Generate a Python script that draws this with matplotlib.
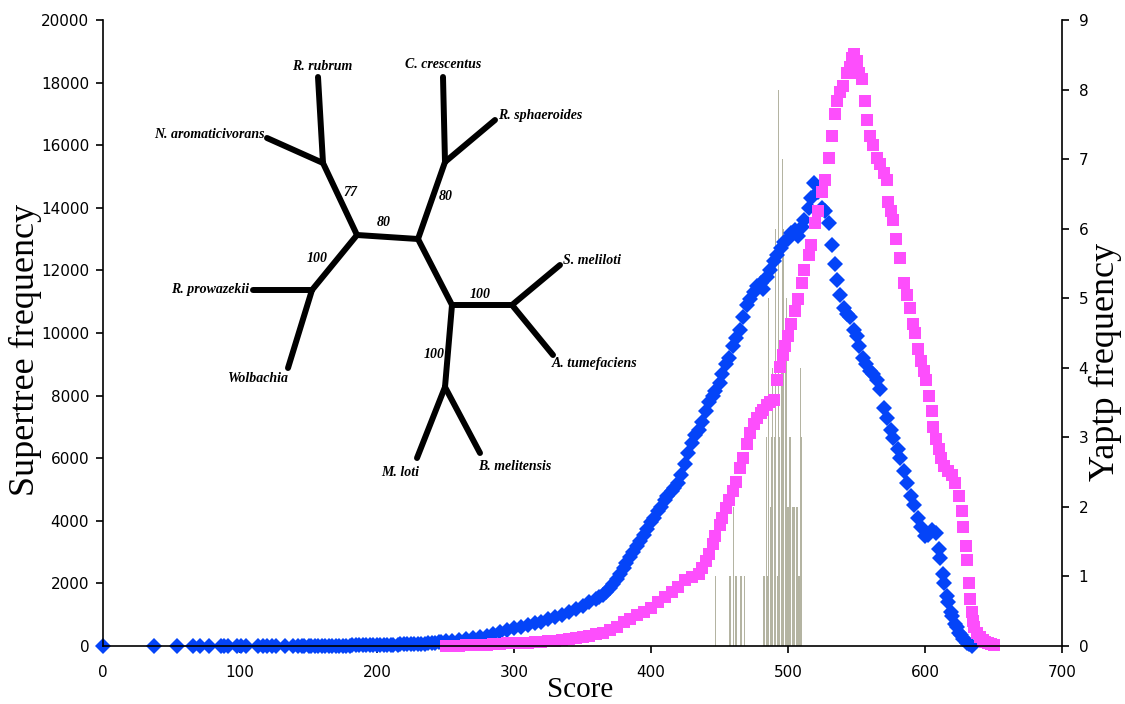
import matplotlib.pyplot as plt
import numpy as np

# Supertree score distribution (blue diamonds, left axis)
super_score = [0, 37, 54, 66, 71, 77, 86, 88, 91, 98, 101, 104, 113, 117, 120, 123, 126, 133,
               139, 142, 145, 147, 150, 152, 155, 157, 160, 162, 165, 167, 170, 172, 175, 177,
               180, 182, 185, 187, 190, 192, 195, 197, 200, 202, 205, 207, 210, 212, 215, 217,
               220, 222, 225, 227, 230, 232, 235, 237, 240, 242, 245, 247, 250, 255, 260, 265,
               270, 275, 280, 285, 290, 295,
               300, 305, 310, 315, 320, 325, 330, 335, 340, 345, 350, 355,
               360, 362, 365, 367, 370, 372, 375, 377, 380, 382, 385, 387, 390, 392, 395, 397,
               400, 402, 405, 407, 410, 412, 415, 417, 420, 422, 425, 427, 430, 432, 435, 437,
               440, 442, 445, 447, 450, 452, 455, 457, 460, 462, 465, 467, 470, 472, 475, 477,
               480, 482, 485, 487, 490, 492, 495, 497, 500, 502, 505, 507, 510, 512, 515, 517,
               519, 522, 525, 527, 530, 532, 534, 536, 538, 541, 543, 545, 548, 550, 552, 555,
               557, 560, 562, 565, 567, 570, 572, 575, 577, 580, 582, 585, 587, 590, 592, 595,
               597, 600, 602, 605, 608, 610, 611, 613, 614, 616, 617, 619, 620, 622, 623, 625,
               626, 628, 629, 631, 632, 634]
super_freq = [0, 0, 0, 0, 0, 0, 0, 0, 0, 0, 0, 0, 0, 0, 0, 0, 0, 0,
              0, 0, 0, 5, 5, 5, 5, 10, 10, 10, 10, 10, 10, 15, 15, 15,
              15, 20, 20, 20, 20, 25, 25, 30, 30, 30, 30, 35, 40, 40, 45, 50,
              50, 55, 55, 60, 60, 65, 70, 80, 90, 100, 120, 130, 150, 170, 200, 230,
              260, 290, 330, 380, 440, 500,
              560, 610, 660, 720, 780, 850, 930, 1000, 1090, 1180, 1280, 1390,
              1500, 1560, 1620, 1720, 1850, 1980, 2150, 2300, 2500, 2650, 2850, 3000, 3200, 3350, 3550, 3750,
              3950, 4100, 4300, 4450, 4650, 4800, 4950, 5050, 5200, 5450, 5800, 6150, 6500, 6750, 6900, 7150,
              7500, 7800, 8000, 8150, 8400, 8700, 9000, 9200, 9600, 9850, 10100, 10500, 10900, 11100, 11300, 11500,
              11600, 11400, 11800, 12000, 12300, 12500, 12700, 12900, 13000, 13200, 13300, 13100, 13400, 13600, 14000, 14300,
              14800, 14500, 14000, 13900, 13500, 12800, 12200, 11700, 11200, 10800, 10600, 10500, 10100, 9900, 9600, 9200,
              9000, 8800, 8700, 8500, 8200, 7600, 7300, 6900, 6650, 6300, 6000, 5600, 5200, 4800, 4500, 4100,
              3800, 3500, 3550, 3700, 3600, 3100, 2800, 2300, 2000, 1600, 1400, 1100, 950, 700, 600, 420,
              350, 230, 180, 90, 50, 0]

# second score distribution (magenta squares, left axis)
other_score = [250, 255, 260, 265, 270, 275, 280, 285, 290, 295, 300, 305, 310, 315, 320, 325,
               330, 335, 340, 345, 350, 355, 360, 365, 370, 375, 380, 385, 390, 395, 400, 405,
               410, 415, 420, 425, 430, 435, 437, 440, 442, 445, 447, 450, 452, 455, 457, 460,
               462, 465, 467, 470, 472, 475, 477, 480, 482, 485, 487, 490, 492, 494, 496, 498,
               500, 502, 505, 507, 510, 512, 515, 517, 520, 522, 525, 527, 530, 532, 534, 536,
               538, 540, 543, 545, 547, 548, 550, 552, 554, 556, 558, 560, 562, 565, 567, 570,
               572, 573, 575, 577, 579, 582, 585, 587, 589, 591, 593, 595, 597, 599, 601, 603,
               605, 606, 608, 610, 612, 614, 617, 620, 622, 625, 627, 628, 630, 631, 632, 633,
               634, 635, 636, 638, 640, 642, 644, 646, 648, 650]
other_freq = [0, 10, 15, 20, 25, 30, 40, 50, 70, 80, 90, 100, 110, 120, 140, 150,
              170, 190, 210, 240, 280, 320, 370, 430, 500, 620, 760, 860, 980, 1100, 1220, 1400,
              1550, 1720, 1900, 2100, 2200, 2300, 2500, 2700, 2950, 3250, 3500, 3850, 4100, 4400, 4650, 4950,
              5250, 5700, 6000, 6450, 6800, 7100, 7300, 7450, 7550, 7700, 7800, 7850, 8500, 8900, 9300, 9600,
              9900, 10300, 10700, 11100, 11600, 12000, 12500, 12800, 13500, 13900, 14500, 14900, 15600, 16300, 17000, 17400,
              17700, 17900, 18300, 18500, 18800, 18900, 18700, 18300, 18100, 17400, 16800, 16300, 16000, 15600, 15400, 15100,
              14900, 14200, 13900, 13600, 13000, 12400, 11600, 11200, 10800, 10300, 10000, 9500, 9100, 8800, 8500, 8000,
              7500, 7000, 6600, 6300, 6000, 5750, 5600, 5450, 5200, 4800, 4300, 3800, 3200, 2750, 2000, 1500,
              1100, 800, 600, 400, 280, 190, 120, 80, 50, 30]

# Yaptp score counts (grey bars, right axis)
yaptp_score = [447, 457, 458, 460, 462, 465, 466, 468, 482, 483, 484, 485, 486, 487, 488, 489,
               490, 491, 492, 493, 494, 495, 496, 497, 498, 499, 500, 501, 502, 503, 504, 505,
               506, 507, 508, 509, 510]
yaptp_count = [1, 1, 1, 2, 1, 1, 1, 1, 1, 1, 3, 1, 5, 2, 3, 4,
               3, 6, 1, 8, 3, 4, 7, 6, 4, 5, 2, 3, 3, 2, 2, 2,
               2, 2, 1, 4, 3]

# tree drawn in an overlay, node positions in figure pixels
nodes = {
    'A': (323, 163), 'B': (357, 235), 'C': (418, 239), 'D': (445, 162),
    'E': (312, 290), 'F': (452, 305), 'G': (512, 305), 'H': (445, 387),
    'rub': (318, 77), 'aro': (267, 138), 'pro': (253, 290), 'wol': (288, 368),
    'cre': (443, 77), 'sph': (495, 120), 'mel': (560, 265), 'tum': (553, 355),
    'lot': (417, 458), 'bme': (480, 453),
}
edges = [('A', 'rub'), ('A', 'aro'), ('A', 'B'), ('B', 'C'), ('B', 'E'), ('E', 'pro'),
         ('E', 'wol'), ('C', 'D'), ('D', 'cre'), ('D', 'sph'), ('C', 'F'), ('F', 'G'),
         ('G', 'mel'), ('G', 'tum'), ('F', 'H'), ('H', 'lot'), ('H', 'bme')]
taxa = [('R. rubrum', 322, 66), ('C. crescentus', 443, 64), ('R. sphaeroides', 540, 116),
        ('N. aromaticivorans', 209, 135), ('S. meliloti', 592, 260), ('R. prowazekii', 210, 290),
        ('Wolbachia', 258, 378), ('A. tumefaciens', 595, 363), ('M. loti', 400, 473),
        ('B. melitensis', 515, 467)]
support = [('77', 350, 193), ('80', 384, 223), ('80', 446, 197), ('100', 317, 258),
           ('100', 480, 295), ('100', 434, 355)]

fig = plt.figure(figsize=(11.25, 7.04), dpi=100)
ax = fig.add_axes([0.0916, 0.0824, 0.8524, 0.8892])
ax2 = ax.twinx()

ax2.bar(yaptp_score, yaptp_count, width=0.8, color='#b4b4a2', linewidth=0)
ax.set_zorder(ax2.get_zorder() + 1)
ax.patch.set_visible(False)

ax.plot(super_score, super_freq, linestyle='none', marker='D', ms=8.5, mew=0,
        color='#0444f8', clip_on=False)
ax.plot(other_score, other_freq, linestyle='none', marker='s', ms=8, mew=0,
        color='#fd4efc', clip_on=False)

ax.set_xlim(0, 700)
ax.set_ylim(0, 20000)
ax2.set_ylim(0, 9)
ax.set_xticks(range(0, 701, 100))
ax.set_yticks(range(0, 20001, 2000))
ax2.set_yticks(range(0, 10))

for a in (ax, ax2):
    a.spines['top'].set_visible(False)
    for s in a.spines.values():
        s.set_linewidth(1.2)
ax.spines['right'].set_visible(False)
ax2.spines['left'].set_visible(False)
ax2.spines['bottom'].set_visible(False)

ax.tick_params(axis='x', direction='out', length=5, width=1.2, labelsize=11, pad=9)
ax.tick_params(axis='y', direction='out', length=5, width=1.2, labelsize=11, pad=5)
ax2.tick_params(axis='y', direction='out', length=5, width=1.2, labelsize=11, pad=7)

fig.text(0.5156, 0.020, 'Score', ha='center', va='center',
         family='Liberation Serif', fontsize=21)
fig.text(0.023, 0.503, 'Supertree frequency', ha='center', va='center', rotation=90,
         family='Liberation Serif', fontsize=26)
fig.text(0.983, 0.486, 'Yaptp frequency', ha='center', va='center', rotation=90,
         family='Liberation Serif', fontsize=26)

# phylogeny inset
axt = fig.add_axes([0, 0, 1, 1], zorder=5)
axt.set_xlim(0, 1125)
axt.set_ylim(704, 0)
axt.axis('off')
for a, b in edges:
    (x1, y1), (x2, y2) = nodes[a], nodes[b]
    axt.plot([x1, x2], [y1, y2], color='black', lw=4.3, solid_capstyle='round')
for name, x, y in taxa:
    axt.text(x, y, name, ha='center', va='center', family='Liberation Serif',
             style='italic', weight='bold', fontsize=10)
for val, x, y in support:
    axt.text(x, y, val, ha='center', va='center', family='Liberation Serif',
             style='italic', weight='bold', fontsize=10)

fig.savefig('out.png', dpi=100)
